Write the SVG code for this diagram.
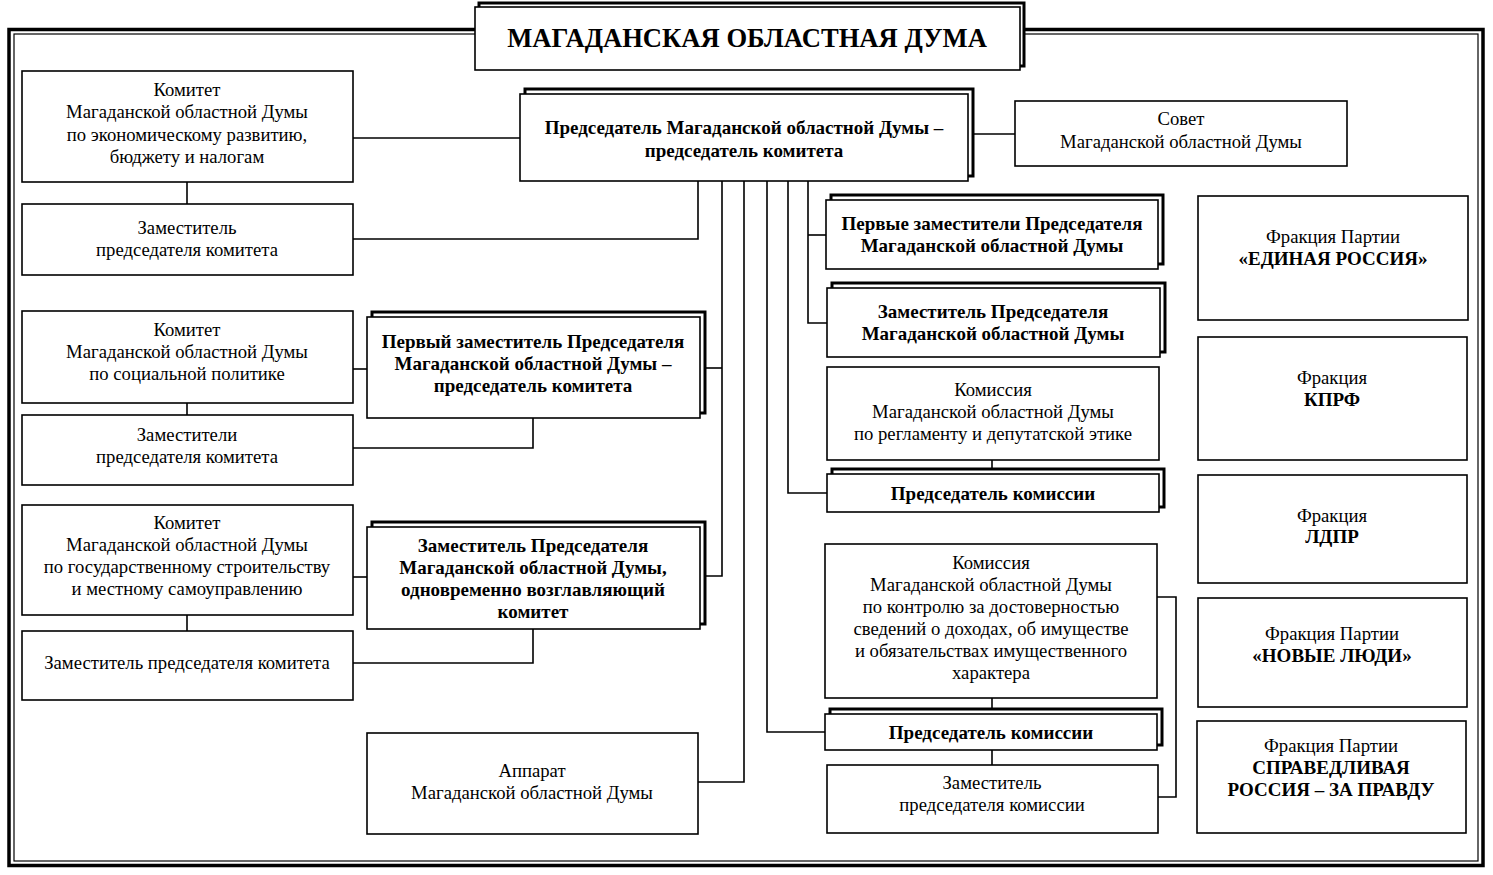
<svg xmlns="http://www.w3.org/2000/svg" width="1493" height="875" viewBox="0 0 1493 875">
<style>
.bx{fill:#fff;stroke:#000;stroke-width:1.6}
.sh{fill:#fff;stroke:#000;stroke-width:3}
.ln{fill:none;stroke:#000;stroke-width:1.6}
text{font-family:"Liberation Serif","Times New Roman",serif;font-size:18.7px;fill:#000;text-anchor:middle}
.b{font-weight:bold;font-size:19px}
.t{font-size:26.6px;font-weight:bold}
</style>
<rect width="1493" height="875" fill="#fff"/>
<g id="frame">
<rect x="9" y="29.5" width="1474" height="836" fill="none" stroke="#000" stroke-width="3.5"/>
<rect x="14" y="34" width="1464" height="827" fill="none" stroke="#000" stroke-width="1.2"/>
</g>
<g id="connectors" class="ln">
<path d="M187 182V204"/>
<path d="M353 138H520"/>
<path d="M353 239H698V181"/>
<path d="M968 134H1015"/>
<path d="M808 181V323H827"/>
<path d="M808 235H826"/>
<path d="M788 181V493H827"/>
<path d="M767 181V732H825"/>
<path d="M744 181V782H698"/>
<path d="M722 181V576H700"/>
<path d="M722 368H700"/>
<path d="M187 403V415"/>
<path d="M353 369H367"/>
<path d="M533 418V448H353"/>
<path d="M187 615V631"/>
<path d="M353 577H367"/>
<path d="M533 629V663H353"/>
<path d="M992 460V474"/>
<path d="M992 698V714"/>
<path d="M992 750V765"/>
<path d="M1157 597H1176V797H1158"/>
</g>
<g id="title">
<rect class="sh" x="479" y="3" width="545" height="63"/>
<rect class="bx" x="475" y="7" width="545" height="63"/>
<text class="t" x="747" y="47">МАГАДАНСКАЯ ОБЛАСТНАЯ ДУМА</text>
</g>
<g id="n-kom-econ">
<rect class="bx" x="22" y="71" width="331" height="111"/>
<text x="187" y="96">Комитет</text>
<text x="187" y="118">Магаданской областной Думы</text>
<text x="187" y="141">по экономическому развитию,</text>
<text x="187" y="163">бюджету и налогам</text>
</g>
<g id="n-zam-econ">
<rect class="bx" x="22" y="204" width="331" height="71"/>
<text x="187" y="234">Заместитель</text>
<text x="187" y="256">председателя комитета</text>
</g>
<g id="n-chair">
<rect class="sh" x="525" y="89" width="448" height="87"/>
<rect class="bx" x="520" y="94" width="448" height="87"/>
<text class="b" x="744" y="134">Председатель Магаданской областной Думы –</text>
<text class="b" x="744" y="157">председатель комитета</text>
</g>
<g id="n-sovet">
<rect class="bx" x="1015" y="101" width="332" height="65"/>
<text x="1181" y="125">Совет</text>
<text x="1181" y="148">Магаданской областной Думы</text>
</g>
<g id="n-kom-soc">
<rect class="bx" x="22" y="311" width="331" height="92"/>
<text x="187" y="336">Комитет</text>
<text x="187" y="358">Магаданской областной Думы</text>
<text x="187" y="380">по социальной политике</text>
</g>
<g id="n-zam-soc">
<rect class="bx" x="22" y="415" width="331" height="70"/>
<text x="187" y="441">Заместители</text>
<text x="187" y="463">председателя комитета</text>
</g>
<g id="n-first-zam">
<rect class="sh" x="372" y="312" width="333" height="101"/>
<rect class="bx" x="367" y="317" width="333" height="101"/>
<text class="b" x="533" y="348">Первый заместитель Председателя</text>
<text class="b" x="533" y="370">Магаданской областной Думы –</text>
<text class="b" x="533" y="392">председатель комитета</text>
</g>
<g id="n-kom-gos">
<rect class="bx" x="22" y="505" width="331" height="110"/>
<text x="187" y="529">Комитет</text>
<text x="187" y="551">Магаданской областной Думы</text>
<text x="187" y="573">по государственному строительству</text>
<text x="187" y="595">и местному самоуправлению</text>
</g>
<g id="n-zam-pred-left">
<rect class="sh" x="372" y="522" width="333" height="102"/>
<rect class="bx" x="367" y="527" width="333" height="102"/>
<text class="b" x="533" y="552">Заместитель Председателя</text>
<text class="b" x="533" y="574">Магаданской областной Думы,</text>
<text class="b" x="533" y="596">одновременно возглавляющий</text>
<text class="b" x="533" y="618">комитет</text>
</g>
<g id="n-zam-gos">
<rect class="bx" x="22" y="631" width="331" height="69"/>
<text x="187" y="669">Заместитель председателя комитета</text>
</g>
<g id="n-apparat">
<rect class="bx" x="367" y="733" width="331" height="101"/>
<text x="532" y="777">Аппарат</text>
<text x="532" y="799">Магаданской областной Думы</text>
</g>
<g id="n-first-zams">
<rect class="sh" x="831" y="195" width="332" height="69"/>
<rect class="bx" x="826" y="200" width="332" height="69"/>
<text class="b" x="992" y="230">Первые заместители Председателя</text>
<text class="b" x="992" y="252">Магаданской областной Думы</text>
</g>
<g id="n-zam-pred-right">
<rect class="sh" x="832" y="283" width="333" height="69"/>
<rect class="bx" x="827" y="288" width="333" height="69"/>
<text class="b" x="993" y="318">Заместитель Председателя</text>
<text class="b" x="993" y="340">Магаданской областной Думы</text>
</g>
<g id="n-kom-reg">
<rect class="bx" x="827" y="367" width="332" height="93"/>
<text x="993" y="396">Комиссия</text>
<text x="993" y="418">Магаданской областной Думы</text>
<text x="993" y="440">по регламенту и депутатской этике</text>
</g>
<g id="n-pred-kom1">
<rect class="sh" x="832" y="469" width="332" height="38"/>
<rect class="bx" x="827" y="474" width="332" height="38"/>
<text class="b" x="993" y="500">Председатель комиссии</text>
</g>
<g id="n-kom-control">
<rect class="bx" x="825" y="544" width="332" height="154"/>
<text x="991" y="569">Комиссия</text>
<text x="991" y="591">Магаданской областной Думы</text>
<text x="991" y="613">по контролю за достоверностью</text>
<text x="991" y="635">сведений о доходах, об имуществе</text>
<text x="991" y="657">и обязательствах имущественного</text>
<text x="991" y="679">характера</text>
</g>
<g id="n-pred-kom2">
<rect class="sh" x="830" y="709" width="332" height="36"/>
<rect class="bx" x="825" y="714" width="332" height="36"/>
<text class="b" x="991" y="739">Председатель комиссии</text>
</g>
<g id="n-zam-kom2">
<rect class="bx" x="827" y="765" width="331" height="68"/>
<text x="992" y="789">Заместитель</text>
<text x="992" y="811">председателя комиссии</text>
</g>
<g id="n-er">
<rect class="bx" x="1198" y="196" width="270" height="124"/>
<text x="1333" y="243">Фракция Партии</text>
<text class="b" x="1333" y="265">«ЕДИНАЯ РОССИЯ»</text>
</g>
<g id="n-kprf">
<rect class="bx" x="1198" y="337" width="269" height="123"/>
<text x="1332" y="384">Фракция</text>
<text class="b" x="1332" y="406">КПРФ</text>
</g>
<g id="n-ldpr">
<rect class="bx" x="1198" y="475" width="269" height="108"/>
<text x="1332" y="522">Фракция</text>
<text class="b" x="1332" y="543">ЛДПР</text>
</g>
<g id="n-nl">
<rect class="bx" x="1198" y="598" width="269" height="109"/>
<text x="1332" y="640">Фракция Партии</text>
<text class="b" x="1332" y="662">«НОВЫЕ ЛЮДИ»</text>
</g>
<g id="n-sr">
<rect class="bx" x="1197" y="721" width="269" height="112"/>
<text x="1331" y="752">Фракция Партии</text>
<text class="b" x="1331" y="774">СПРАВЕДЛИВАЯ</text>
<text class="b" x="1331" y="796">РОССИЯ – ЗА ПРАВДУ</text>
</g>
</svg>
